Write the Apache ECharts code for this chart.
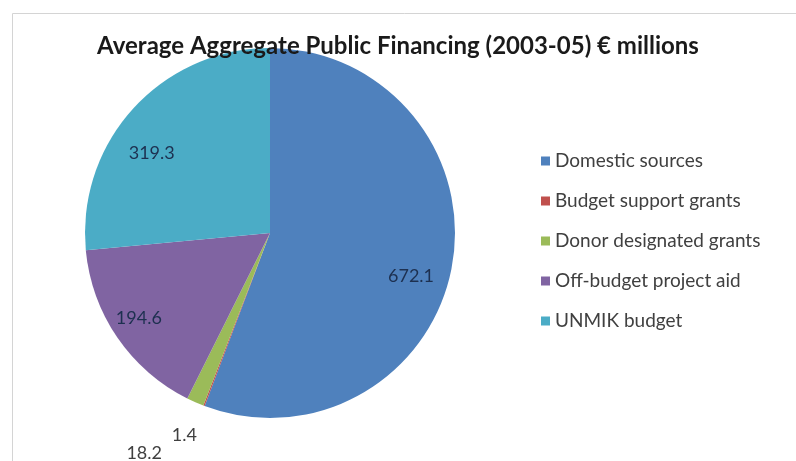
<!DOCTYPE html>
<html>
<head>
<meta charset="utf-8">
<script src="https://cdn.jsdelivr.net/npm/echarts@6/dist/echarts.min.js"></script>
<style>
html,body{margin:0;padding:0;background:#fff;}
#chart{width:796px;height:461px;}
</style>
</head>
<body>
<div id="chart"></div>
<script>
const titleText = 'Average Aggregate Public Financing (2003-05) € millions';
const categories = ['Domestic sources', 'Budget support grants', 'Donor designated grants', 'Off-budget project aid', 'UNMIK budget'];
const values = [672.1, 1.4, 18.2, 194.6, 319.3];
const colors = ['#4F81BD', '#C0504D', '#9BBB59', '#8064A2', '#4BACC6'];

const chart = echarts.init(document.getElementById('chart'), null, {renderer: 'canvas'});

// label styling per slice (index-aligned with categories)
const labelStyles = [
  {color: '#1d3050', offset: [-7, 16]},
  {color: '#404040', offset: [-32, 62]},
  {color: '#404040', offset: [-65, 83]},
  {color: '#1d3050', offset: [-7, 0]},
  {color: '#1d3050', offset: [-7, 22]}
];

const visibleData = categories.map((n, i) => ({name: n, value: values[i], itemStyle: {color: colors[i]}}));
const labelData = categories.map((n, i) => ({
  name: n, value: values[i],
  label: {position: 'inside', color: labelStyles[i].color, offset: labelStyles[i].offset}
}));

chart.setOption({
  backgroundColor: '#ffffff',
  animation: false,
  graphic: [{
    type: 'rect', left: 10, top: 11,
    shape: {width: 800, height: 470},
    style: {fill: 'none', stroke: '#d4d4d4', lineWidth: 1}, silent: true
  }],
  title: {
    text: titleText, left: 'center', top: 29,
    textStyle: {fontFamily: 'Lato', fontWeight: 'bold', fontSize: 24, color: '#1a1a1a'}
  },
  legend: {
    orient: 'vertical', left: 536, top: 146,
    icon: 'rect', itemWidth: 9, itemHeight: 9, itemGap: 20,
    data: categories,
    textStyle: {fontFamily: 'Lato', fontSize: 19, color: '#404040', lineHeight: 20}
  },
  series: [{
    type: 'pie', name: 'visible', center: [270, 233], radius: [0, 185],
    startAngle: 90, clockwise: true, silent: true,
    label: {show: false}, labelLine: {show: false},
    data: visibleData
  }, {
    type: 'pie', name: 'labels', center: [270, 233], radius: [110, 185],
    startAngle: 90, clockwise: true, silent: true,
    itemStyle: {color: 'rgba(0,0,0,0)'},
    label: {show: true, formatter: '{c}', fontFamily: 'Lato', fontSize: 18},
    labelLine: {show: false},
    data: labelData
  }]
});
</script>
</body>
</html>
